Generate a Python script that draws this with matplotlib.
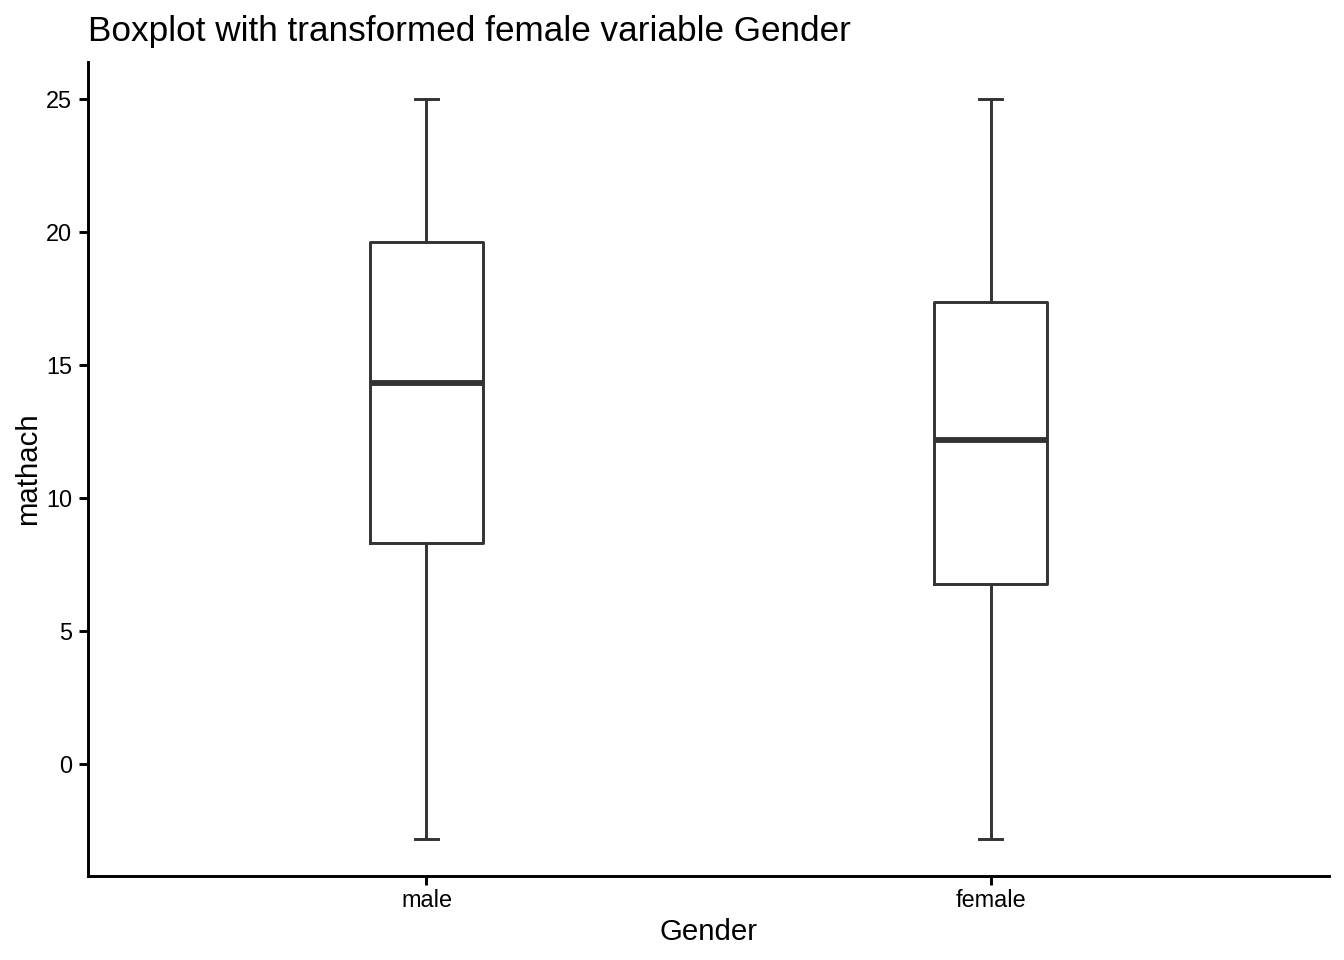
import matplotlib.pyplot as plt

plt.rcParams['font.family'] = ['Liberation Sans', 'DejaVu Sans']

groups = ["male", "female"]
whislo = [-2.83, -2.83]
q1 = [8.31, 6.77]
med = [14.31, 12.18]
q3 = [19.62, 17.37]
whishi = [25.0, 25.0]

stats = []
for i, g in enumerate(groups):
    stats.append(dict(label=g, whislo=whislo[i], q1=q1[i], med=med[i],
                      q3=q3[i], whishi=whishi[i], fliers=[]))

fig = plt.figure(figsize=(7, 5), dpi=192)
ax = fig.add_axes([88 / 1344, 1 - 876 / 960, (1329 - 88) / 1344, (876 - 62) / 960])

c = "#333333"
ax.bxp(stats, positions=[1, 2], widths=0.2, showfliers=False,
       boxprops=dict(color=c, linewidth=1.1),
       whiskerprops=dict(color=c, linewidth=1.1),
       capprops=dict(color=c, linewidth=1.1),
       medianprops=dict(color=c, linewidth=2.2),
       capwidths=0.04)

ax.set_xlim(0.4, 2.6)
ax.set_ylim(-4.22, 26.39)
ax.set_yticks([0, 5, 10, 15, 20, 25])
ax.set_xticks([1, 2])
ax.set_xticklabels(groups)

for s in ["top", "right"]:
    ax.spines[s].set_visible(False)
for s in ["left", "bottom"]:
    ax.spines[s].set_linewidth(1.1)
ax.tick_params(axis="both", length=3.5, width=1.1, labelsize=8.8, colors="black", pad=2.5)
ax.tick_params(axis="x", pad=1.2)

ax.set_xlabel("Gender", fontsize=11, labelpad=2.6)
ax.set_ylabel("mathach", fontsize=11, labelpad=1.6)
ax.set_title("Boxplot with transformed female variable Gender", fontsize=13.2, loc="left", x=0.0, pad=7.8)

fig.savefig("out.png", dpi=192)
